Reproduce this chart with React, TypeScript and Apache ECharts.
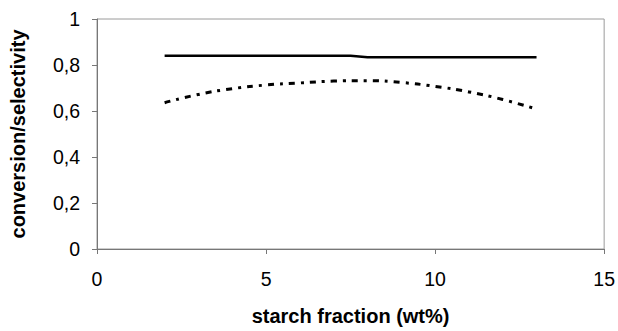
import React, { useEffect, useRef } from "react";
import * as echarts from "echarts";

// starch fraction (wt%) vs conversion/selectivity
const conversionX = [2, 4, 6, 7.5, 8, 10, 12, 13];
const conversionY = [0.84, 0.84, 0.84, 0.84, 0.834, 0.834, 0.834, 0.834];

const selectivityX = [2, 3, 4, 5, 6, 7, 8, 9, 10, 11, 12, 13];
const selectivityY = [0.636, 0.672, 0.697, 0.713, 0.722, 0.73, 0.732, 0.724, 0.707, 0.683, 0.65, 0.608];

const xTicks = [0, 5, 10, 15];
const yTicks = [0, 0.2, 0.4, 0.6, 0.8, 1];

const pairs = (xs: number[], ys: number[]) => xs.map((x, i) => [x, ys[i]]);

export default function App() {
  const ref = useRef<HTMLDivElement>(null);

  useEffect(() => {
    if (!ref.current) return;
    const chart = echarts.init(ref.current, undefined, { renderer: "svg" });
    const font = "'Liberation Sans', Arial, sans-serif";
    chart.setOption({
      animation: false,
      backgroundColor: "#ffffff",
      grid: {
        left: 92,
        right: 13,
        top: 19,
        bottom: 77,
        show: true,
        borderColor: "#9a9a9a",
        borderWidth: 1,
      },
      xAxis: {
        type: "value",
        min: xTicks[0],
        max: xTicks[xTicks.length - 1],
        interval: 5,
        name: "starch fraction (wt%)",
        nameLocation: "middle",
        nameGap: 57,
        nameTextStyle: { fontFamily: font, fontSize: 20, fontWeight: "bold", color: "#000" },
        axisLine: { show: true, lineStyle: { color: "#777", width: 1 } },
        axisTick: { show: true, length: 5, inside: false, lineStyle: { color: "#777" } },
        axisLabel: { fontFamily: font, fontSize: 19.5, color: "#000", margin: 20 },
        splitLine: { show: false },
      },
      yAxis: {
        type: "value",
        min: yTicks[0],
        max: yTicks[yTicks.length - 1],
        interval: 0.2,
        name: "conversion/selectivity",
        nameLocation: "middle",
        nameGap: 69,
        nameTextStyle: { fontFamily: font, fontSize: 20, fontWeight: "bold", color: "#000" },
        axisLine: { show: true, lineStyle: { color: "#777", width: 1 } },
        axisTick: { show: true, length: 5, inside: false, lineStyle: { color: "#777" } },
        axisLabel: {
          fontFamily: font,
          fontSize: 19.5,
          color: "#000",
          margin: 17,
          formatter: (v: number) => (v === 0 || v === 1 ? String(v) : v.toFixed(1).replace(".", ",")),
        },
        splitLine: { show: false },
      },
      series: [
        {
          type: "line",
          data: pairs(conversionX, conversionY),
          showSymbol: false,
          lineStyle: { color: "#000", width: 2.5, type: "solid" },
        },
        {
          type: "line",
          data: pairs(selectivityX, selectivityY),
          smooth: true,
          showSymbol: false,
          lineStyle: { color: "#000", width: 3, type: [6, 6, 3, 6] },
        },
      ],
    });
    return () => chart.dispose();
  }, []);

  return (
    <div
      ref={ref}
      style={{ position: "fixed", left: 0, top: 0, width: 618, height: 331, background: "#fff" }}
    />
  );
}
